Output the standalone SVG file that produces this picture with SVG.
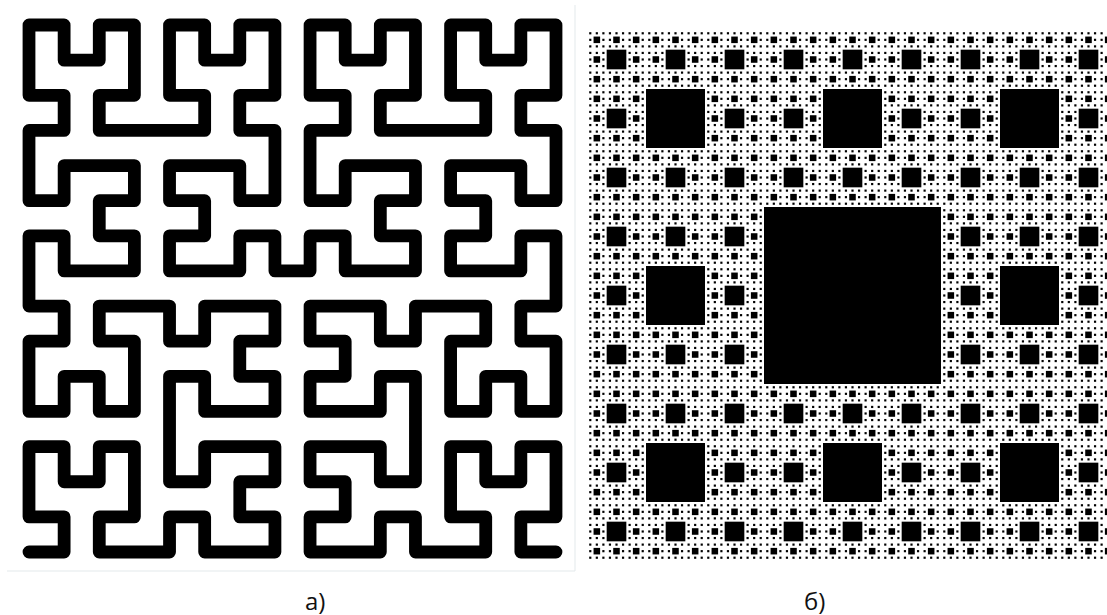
<svg xmlns="http://www.w3.org/2000/svg" width="1107" height="615" viewBox="0 0 1107 615">
<style>
.curve{fill:none;stroke:#000;stroke-width:0.364;stroke-linecap:round;stroke-linejoin:round}
.frame{stroke:#e3e9eb;stroke-width:1;fill:none}
.lbl{font-family:"Open Sans","Noto Sans","DejaVu Sans",sans-serif;font-size:24px;fill:#111}
</style>
<defs>
<g id="s1"><rect x="1" y="1" width="1" height="1"/></g>
<g id="s2"><rect x="3" y="3" width="3" height="3"/><use href="#s1"/><use href="#s1" x="3"/><use href="#s1" x="6"/><use href="#s1" y="3"/><use href="#s1" x="6" y="3"/><use href="#s1" y="6"/><use href="#s1" x="3" y="6"/><use href="#s1" x="6" y="6"/></g>
<g id="s3"><rect x="9" y="9" width="9" height="9"/><use href="#s2"/><use href="#s2" x="9"/><use href="#s2" x="18"/><use href="#s2" y="9"/><use href="#s2" x="18" y="9"/><use href="#s2" y="18"/><use href="#s2" x="9" y="18"/><use href="#s2" x="18" y="18"/></g>
<g id="s4"><rect x="27" y="27" width="27" height="27"/><use href="#s3"/><use href="#s3" x="27"/><use href="#s3" x="54"/><use href="#s3" y="27"/><use href="#s3" x="54" y="27"/><use href="#s3" y="54"/><use href="#s3" x="27" y="54"/><use href="#s3" x="54" y="54"/></g>
<g id="s5"><rect x="81" y="81" width="81" height="81"/><use href="#s4"/><use href="#s4" x="81"/><use href="#s4" x="162"/><use href="#s4" y="81"/><use href="#s4" x="162" y="81"/><use href="#s4" y="162"/><use href="#s4" x="81" y="162"/><use href="#s4" x="162" y="162"/></g>
</defs>
<g id="frame-a">
<line class="frame" x1="7" y1="571" x2="575" y2="571"/>
<line class="frame" x1="575" y1="5" x2="575" y2="571"/>
</g>
<g id="hilbert" transform="translate(29 552) scale(35.133 -35.133)">
<path class="curve" d="M0 0
h1v1h-1v2h1v-1h1v1h1v-2h-1v-1h1
h1
v1h1v-1h2v1h-1v1h1v1h-2v-1h-1v1
v1
v1h1v-1h2v1h-1v1h1v1h-2v-1h-1v1
h-1
h-1v-1h1v-2h-1v1h-1v-1h-1v2h1v1h-1
v1
v1h1v-1h2v1h-1v1h1v1h-2v-1h-1v1
v1
h1v1h-1v2h1v-1h1v1h1v-2h-1v-1h1
h1
h1v1h-1v2h1v-1h1v1h1v-2h-1v-1h1
v-1
v-1h-1v1h-2v-1h1v-1h-1v-1h2v1h1v-1
h1
v1h1v-1h2v1h-1v1h1v1h-2v-1h-1v1
v1
h1v1h-1v2h1v-1h1v1h1v-2h-1v-1h1
h1
h1v1h-1v2h1v-1h1v1h1v-2h-1v-1h1
v-1
v-1h-1v1h-2v-1h1v-1h-1v-1h2v1h1v-1
v-1
h-1v-1h1v-2h-1v1h-1v-1h-1v2h1v1h-1
h-1
v-1h-1v1h-2v-1h1v-1h-1v-1h2v1h1v-1
v-1
v-1h-1v1h-2v-1h1v-1h-1v-1h2v1h1v-1
h1
h1v1h-1v2h1v-1h1v1h1v-2h-1v-1h1"/>
</g>
<g id="carpet" transform="translate(587 30) scale(2.18519)" fill="#000">
<use href="#s5"/>
</g>
<g id="labels">
<text class="lbl" x="305" y="610">а)</text>
<text class="lbl" x="804" y="610">б)</text>
</g>
</svg>
